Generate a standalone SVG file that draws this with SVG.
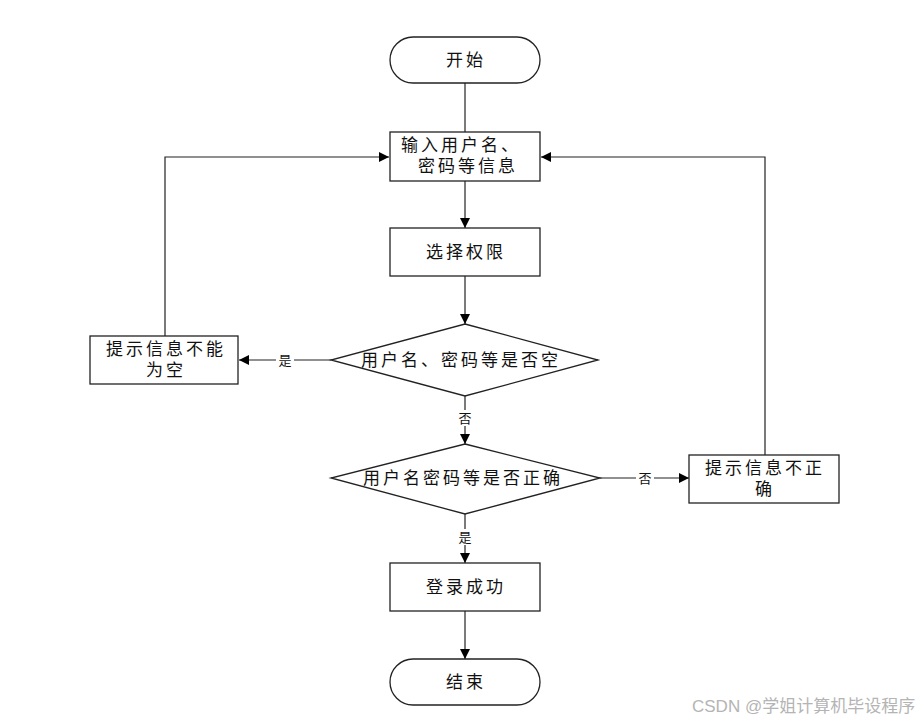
<svg xmlns="http://www.w3.org/2000/svg" width="921" height="720" viewBox="0 0 921 720">
<style>
.shape{fill:#fff;stroke:#222;stroke-width:1.3}
.t{font-family:"Liberation Serif","Noto Sans CJK SC",serif;font-size:17px;letter-spacing:3px;fill:#111;text-anchor:middle}
.lbl{font-family:"Liberation Serif","Noto Sans CJK SC",serif;font-size:13px;fill:#111;text-anchor:middle}
.c{fill:none;stroke:#222;stroke-width:1.2}
.wm{font-family:"Liberation Sans","Noto Sans CJK SC",sans-serif;font-size:17px;fill:#b4b4b4}
</style>
<defs>
<marker id="ah" viewBox="0 0 10 10" refX="10" refY="5" markerWidth="10" markerHeight="10" markerUnits="userSpaceOnUse" orient="auto">
<path d="M0,0 L10,5 L0,10 z" fill="#000"/>
</marker>
</defs>
<rect width="921" height="720" fill="#fff"/>
<g id="connectors">
<path class="c" d="M465,83 V132"/>
<path class="c" d="M465,181 V228" marker-end="url(#ah)"/>
<path class="c" d="M465,276 V324" marker-end="url(#ah)"/>
<path class="c" d="M331,360 H239" marker-end="url(#ah)"/>
<path class="c" d="M165,336 V157 H389" marker-end="url(#ah)"/>
<path class="c" d="M465,396 V444" marker-end="url(#ah)"/>
<path class="c" d="M600,478 H689" marker-end="url(#ah)"/>
<path class="c" d="M765,455 V157 H541" marker-end="url(#ah)"/>
<path class="c" d="M465,514 V563" marker-end="url(#ah)"/>
<path class="c" d="M465,611 V659" marker-end="url(#ah)"/>
<rect x="276" y="352" width="18" height="16" fill="#fff"/>
<text class="lbl" x="285" y="365">是</text>
<rect x="456" y="410" width="18" height="16" fill="#fff"/>
<text class="lbl" x="465" y="423">否</text>
<rect x="636" y="470" width="18" height="16" fill="#fff"/>
<text class="lbl" x="645" y="483">否</text>
<rect x="456" y="529" width="18" height="16" fill="#fff"/>
<text class="lbl" x="465" y="542">是</text>
</g>
<g id="start">
<rect class="shape" x="390" y="37" width="150" height="46" rx="23"/>
<text class="t" x="466" y="66">开始</text>
</g>
<g id="input">
<rect class="shape" x="390" y="132" width="150" height="49"/>
<text class="t" x="461" y="151">输入用户名、</text>
<text class="t" x="468" y="172">密码等信息</text>
</g>
<g id="select">
<rect class="shape" x="390" y="228" width="150" height="48"/>
<text class="t" x="466" y="258">选择权限</text>
</g>
<g id="check-empty">
<polygon class="shape" points="465,324 598,360 465,396 331,360"/>
<text class="t" x="461" y="366">用户名、密码等是否空</text>
</g>
<g id="msg-empty">
<rect class="shape" x="90" y="336" width="148" height="48"/>
<text class="t" x="166" y="355">提示信息不能</text>
<text class="t" x="166" y="376">为空</text>
</g>
<g id="check-correct">
<polygon class="shape" points="465,444 600,478 465,514 331,478"/>
<text class="t" x="463" y="484">用户名密码等是否正确</text>
</g>
<g id="msg-wrong">
<rect class="shape" x="689" y="455" width="150" height="48"/>
<text class="t" x="765" y="474">提示信息不正</text>
<text class="t" x="765" y="495">确</text>
</g>
<g id="login">
<rect class="shape" x="390" y="563" width="150" height="48"/>
<text class="t" x="466" y="593">登录成功</text>
</g>
<g id="end">
<rect class="shape" x="390" y="659" width="150" height="46" rx="23"/>
<text class="t" x="466" y="688">结束</text>
</g>
<text class="wm" x="692" y="712">CSDN @学姐计算机毕设程序</text>
</svg>
